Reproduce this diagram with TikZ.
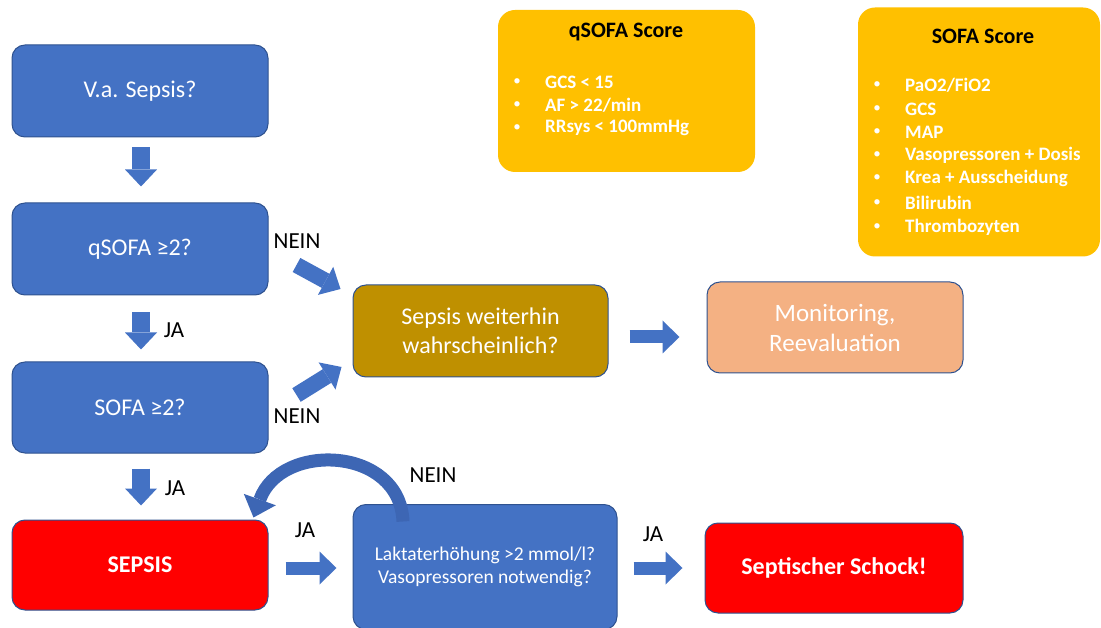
\documentclass[tikz,border=0pt]{standalone}
\usepackage{fontspec}
\setmainfont{Carlito}
\usetikzlibrary{arrows.meta,calc}
\definecolor{pblue}{HTML}{4472C4}
\definecolor{pborder}{HTML}{2F528F}
\definecolor{pgold}{HTML}{BF9000}
\definecolor{porange}{HTML}{F4B183}
\definecolor{pyellow}{HTML}{FFC000}
\definecolor{pred}{HTML}{FF0000}
\definecolor{pdark}{HTML}{3D66B4}
\begin{document}
\begin{tikzpicture}[x=1pt,y=-1pt,
  box/.style={rectangle, draw=pborder, line width=1pt, rounded corners=13pt,
    text=white, align=center, inner sep=0pt,
    font=\fontsize{24}{29}\selectfont},
  wh/.style 2 args={minimum width=#1pt, minimum height=#2pt},
  bluebox/.style={box, fill=pblue},
  redbox/.style={box, fill=pred, font=\fontsize{24}{29}\selectfont\bfseries},
  infobox/.style={rectangle, fill=pyellow, rounded corners=17pt, inner sep=0pt},
  infotitle/.style={text=black, inner sep=0pt, font=\fontsize{22}{26}\selectfont\bfseries},
  item/.style={text=white, anchor=west, inner sep=0pt, font=\fontsize{19}{23}\selectfont\bfseries},
  bul/.style={text=white, inner sep=0pt, font=\fontsize{15}{18}\selectfont},
  lab/.style={text=black, inner sep=0pt, font=\fontsize{23}{27}\selectfont},
  barrow/.style 2 args={draw=pblue, line width=#1pt,
    -{Triangle[length=17pt, width=#2pt, line width=0pt]}}
]
\useasboundingbox (0,0) rectangle (1101,628);

% info boxes
\node[infobox, wh={257}{162}] (qb) at (626.5,91) {};
\node[infotitle] (qbt) at (626,32) {qSOFA Score};
\node[bul] (qb1b) at (517,82) {•};
\node[item] (qb1) at (545,82) {GCS < 15};
\node[bul] (qb2b) at (517,105) {•};
\node[item] (qb2) at (545,105) {AF > 22/min};
\node[bul] (qb3b) at (517,128) {•};
\node[item] (qb3) at (545,128) {RRsys < 100mmHg};

\node[infobox, wh={242}{249}] (sb) at (979,132) {};
\node[infotitle] (sbt) at (983,36) {SOFA Score};
\node[bul] (sb1b) at (877,85) {•};
\node[item] (sb1) at (905,85) {PaO2/FiO2};
\node[bul] (sb2b) at (877,109) {•};
\node[item] (sb2) at (905,109) {GCS};
\node[bul] (sb3b) at (877,132) {•};
\node[item] (sb3) at (905,132) {MAP};
\node[bul] (sb4b) at (877,155) {•};
\node[item] (sb4) at (905,155) {Vasopressoren + Dosis};
\node[bul] (sb5b) at (877,178) {•};
\node[item] (sb5) at (905,178) {Krea + Ausscheidung};
\node[bul] (sb6b) at (877,203) {•};
\node[item] (sb6) at (905,203) {Bilirubin};
\node[bul] (sb7b) at (877,227) {•};
\node[item] (sb7) at (905,227) {Thrombozyten};

% flow boxes
\node[bluebox, wh={256}{92}] (va) at (140,91) {V.a. Sepsis?};
\node[bluebox, wh={256}{92}] (qs) at (140,249) {qSOFA ≥2?};
\node[bluebox, wh={256}{91}] (so) at (140,407.5) {SOFA ≥2?};
\node[redbox, wh={256}{90}] (se) at (140,565) {SEPSIS};
\node[box, fill=pgold, wh={255}{92}] (sw) at (480.5,331) {Sepsis weiterhin\\wahrscheinlich?};
\node[box, fill=porange, wh={256}{91}, font=\fontsize{25}{30}\selectfont] (mon) at (835,327.5) {Monitoring,\\Reevaluation};
\node[bluebox, wh={264}{125}, font=\fontsize{19.5}{23.5}\selectfont] (la) at (485,567)
  {Laktaterhöhung >2 mmol/l?\\Vasopressoren notwendig?};
\node[redbox, wh={258}{90}] (ss) at (834,568) {Septischer Schock!};

% block arrows
\draw[barrow={18}{32}] ($(va.south)+(1,10)$) -- ($(qs.north)+(1,-16)$);
\draw[barrow={18}{32}] ($(qs.south)+(1,17)$) -- ($(so.north)+(1,-12)$);
\draw[barrow={18}{32}] ($(so.south)+(1,15)$) -- ($(se.north)+(1,-14)$);
\draw[barrow={16}{32}] ($(qs.east)+(28,16)$) -- ($(sw.west)+(-12,-42)$);
\draw[barrow={16}{32}] ($(so.east)+(28,-12.5)$) -- ($(sw.west)+(-11,36)$);
\draw[barrow={13}{33}] ($(sw.east)+(21,6)$) -- ($(mon.west)+(-27,9.5)$);
\draw[barrow={13}{33}] ($(se.east)+(17,3)$) -- ($(la.west)+(-16,1)$);
\draw[barrow={13}{33}] ($(la.east)+(16,1)$) -- ($(ss.west)+(-22,0)$);

% curved NEIN arrow
\draw[draw=pdark, line width=13pt, -{Triangle[length=19pt, width=34pt, line width=0pt]}]
  ($(la.north)+(-82,17.5)$) .. controls ($(la.north)+(-85,-58)$) and ($(se.north east)+(12,-78)$) .. ($(se.north east)+(-15,-2)$);

% labels
\node[lab] (l1) at (297,241) {NEIN};
\node[lab] (l2) at (174,330) {JA};
\node[lab] (l3) at (297,416) {NEIN};
\node[lab] (l4) at (175,488) {JA};
\node[lab] (l5) at (433,475) {NEIN};
\node[lab] (l6) at (305,530) {JA};
\node[lab] (l7) at (653,534) {JA};
\end{tikzpicture}
\end{document}
